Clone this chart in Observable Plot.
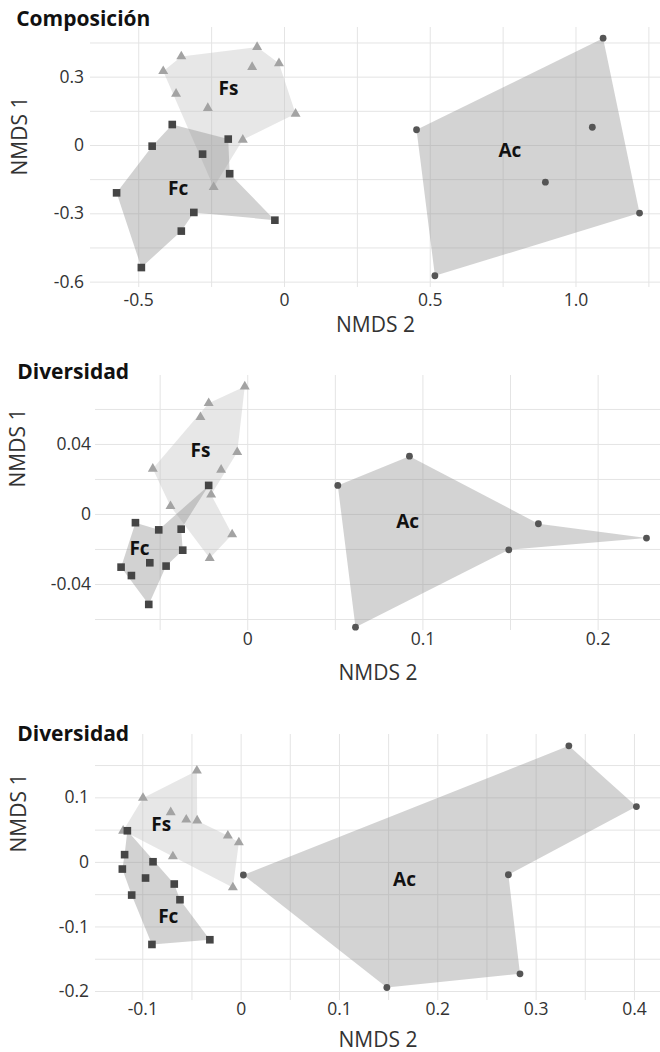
<!DOCTYPE html>
<html><head><meta charset="utf-8">
<script src="https://cdn.jsdelivr.net/npm/d3@7"></script>
<script src="https://cdn.jsdelivr.net/npm/@observablehq/plot@0.6"></script>
<style>
body{margin:0;background:#fff;}
#chart svg{display:block;}
</style></head><body><div id="chart"></div>
<script>
// ---------- Panel 1: Composición ----------
const compFs = [[-0.416,0.326],[-0.354,0.391],[-0.094,0.432],[-0.019,0.361],[-0.111,0.344],[-0.372,0.227],[-0.263,0.164],[0.038,0.139],[-0.143,0.025],[-0.243,-0.183]];
const compFsHull = [0,1,2,3,7,8,9];
const compFc = [[-0.385,0.092],[-0.454,-0.003],[-0.193,0.028],[-0.281,-0.038],[-0.188,-0.124],[-0.576,-0.208],[-0.311,-0.294],[-0.033,-0.328],[-0.354,-0.376],[-0.491,-0.536]];
const compFcHull = [0,2,4,7,6,8,9,5,1];
const compAc = [[0.453,0.069],[1.093,0.471],[1.056,0.080],[0.895,-0.161],[1.218,-0.297],[0.516,-0.572]];
const compAcHull = [0,1,4,5];
const compLabels = [["Fs",-0.192,0.250],["Fc",-0.365,-0.189],["Ac",0.773,-0.022]];
const compXTicks = [-0.5,0,0.5,1.0], compXTickLabels = ["-0.5","0","0.5","1.0"];
const compYTicks = [-0.6,-0.3,0,0.3], compYTickLabels = ["-0.6","-0.3","0","0.3"];
const compXGrid = [-0.5,-0.25,0,0.25,0.5,0.75,1.0,1.25];
const compYGrid = [-0.6,-0.45,-0.3,-0.15,0,0.15,0.3,0.45];

// ---------- Panel 2: Diversidad ----------
const div1Fs = [[-0.0017,0.0731],[-0.0223,0.0636],[-0.027,0.0556],[-0.006,0.0356],[-0.0542,0.0261],[-0.0152,0.0255],[-0.0209,0.0113],[-0.0441,0.0047],[-0.0089,-0.0114],[-0.0217,-0.025]];
const div1FsHull = [4,1,0,3,6,8,9,7];
const div1Fc = [[-0.0641,-0.0047],[-0.0508,-0.0088],[-0.038,-0.0084],[-0.0223,0.0166],[-0.0371,-0.0204],[-0.0559,-0.0276],[-0.0723,-0.0301],[-0.0466,-0.0295],[-0.0664,-0.0349],[-0.0565,-0.0514]];
const div1FcHull = [0,1,3,2,4,7,9,6];
const div1Ac = [[0.0514,0.0166],[0.0923,0.0333],[0.1659,-0.0053],[0.149,-0.0202],[0.2276,-0.0135],[0.0615,-0.0644]];
const div1AcHull = [0,1,2,4,3,5];
const div1Labels = [["Fs",-0.027,0.0366],["Fc",-0.0618,-0.0196],["Ac",0.0913,-0.0044]];
const div1XTicks = [0,0.1,0.2], div1XTickLabels = ["0","0.1","0.2"];
const div1YTicks = [-0.04,0,0.04], div1YTickLabels = ["-0.04","0","0.04"];
const div1XGrid = [-0.05,0,0.05,0.1,0.15,0.2];
const div1YGrid = [-0.06,-0.04,-0.02,0,0.02,0.04,0.06];

// ---------- Panel 3: Diversidad ----------
const div2Fs = [[-0.045,0.142],[-0.0998,0.0998],[-0.0716,0.0775],[-0.0558,0.0662],[-0.0447,0.0647],[-0.12,0.049],[-0.0135,0.0414],[-0.0023,0.031],[-0.0694,0.0093],[-0.0084,-0.0388]];
const div2FsHull = [5,1,0,4,6,7,9,8];
const div2Fc = [[-0.1157,0.049],[-0.1185,0.012],[-0.0896,0.001],[-0.1208,-0.0103],[-0.0972,-0.0242],[-0.068,-0.0335],[-0.1113,-0.0506],[-0.0622,-0.0578],[-0.0318,-0.1198],[-0.0907,-0.1271]];
const div2FcHull = [0,5,7,8,9,6,3,1];
const div2Ac = [[0.0023,-0.0195],[0.3333,0.1805],[0.402,0.0864],[0.2718,-0.0191],[0.2836,-0.1726],[0.1482,-0.1938]];
const div2AcHull = [0,1,2,3,4,5];
const div2Labels = [["Fs",-0.0812,0.0587],["Fc",-0.0741,-0.0849],["Ac",0.1662,-0.0265]];
const div2XTicks = [-0.1,0,0.1,0.2,0.3,0.4], div2XTickLabels = ["-0.1","0","0.1","0.2","0.3","0.4"];
const div2YTicks = [-0.2,-0.1,0,0.1], div2YTickLabels = ["-0.2","-0.1","0","0.1"];
const div2XGrid = [-0.1,-0.05,0,0.05,0.1,0.15,0.2,0.25,0.3,0.35,0.4];
const div2YGrid = [-0.2,-0.15,-0.1,-0.05,0,0.05,0.1,0.15];

const FONT = "'Open Sans', sans-serif";
const GRID = "#e4e4e4";

function panel(o) {
  const hull = (pts, idx) => idx.map(i => ({x: pts[i][0], y: pts[i][1]}));
  const pts = arr => arr.map(p => ({x: p[0], y: p[1]}));
  const poly = (pts_, idx, fill, op) => Plot.line(hull(pts_, idx), {x: "x", y: "y", curve: "linear-closed", fill, fillOpacity: op, stroke: "none"});
  return Plot.plot({
    width: 660, height: o.height,
    marginLeft: o.ml, marginRight: 0, marginTop: o.mt, marginBottom: o.mb,
    style: {fontFamily: FONT, background: "#fff", overflow: "visible"},
    x: {domain: o.xd, label: null},
    y: {domain: o.yd, label: null},
    marks: [
      Plot.ruleX(o.xGrid, {stroke: GRID, strokeWidth: 1}),
      Plot.ruleY(o.yGrid, {stroke: GRID, strokeWidth: 1}),
      poly(o.Fs, o.FsHull, "#c4c4c4", 0.4),
      poly(o.Fc, o.FcHull, "#8f8f8f", 0.4),
      poly(o.Ac, o.AcHull, "#929292", 0.4),
      Plot.dot(pts(o.Fs), {x: "x", y: "y", symbol: "triangle", r: 3.7, fill: "#a3a3a3", stroke: "none"}),
      Plot.dot(pts(o.Fc), {x: "x", y: "y", symbol: "square", r: 4.3, fill: "#454545", stroke: "none"}),
      Plot.dot(pts(o.Ac), {x: "x", y: "y", symbol: "circle", r: 3.4, fill: "#555555", stroke: "none"}),
      Plot.text(o.labels, {x: d => d[1], y: d => d[2], text: d => d[0], fontSize: 19, fontWeight: "bold", fill: "#111", fontFamily: FONT}),
      Plot.axisX(o.xTicks, {tickSize: 0, tickPadding: o.xPad, fontSize: 17.5, fill: "#333", tickFormat: d => o.xTickLabels[o.xTicks.indexOf(d)], label: null}),
      Plot.axisY(o.yTicks, {tickSize: 0, tickPadding: o.yPad, fontSize: 17.5, fill: "#333", tickFormat: d => o.yTickLabels[o.yTicks.indexOf(d)], label: null}),
      Plot.text(["NMDS 2"], {frameAnchor: "bottom", dy: o.xlDy, lineAnchor: "middle", fontSize: 21, fill: "#333"}),
      Plot.text(["NMDS 1"], {frameAnchor: "left", dx: o.ylDx, dy: o.ylDy, rotate: -90, lineAnchor: "middle", fontSize: 21, fill: "#333"}),
      Plot.text([o.title], {frameAnchor: "top-left", dx: o.tDx, dy: o.tDy, textAnchor: "start", lineAnchor: "middle", fontSize: 21, fontWeight: "bold", fill: "#111"})
    ]
  });
}

const chart = document.getElementById("chart");
chart.append(panel({
  title: "Composición", height: 340, ml: 90, mt: 27, mb: 53,
  xd: [-0.6655, 1.2899], yd: [-0.6236, 0.5180],
  xGrid: compXGrid, yGrid: compYGrid, xTicks: compXTicks, xTickLabels: compXTickLabels, yTicks: compYTicks, yTickLabels: compYTickLabels,
  Fs: compFs, FsHull: compFsHull, Fc: compFc, FcHull: compFcHull, Ac: compAc, AcHull: compAcHull, labels: compLabels,
  xPad: 5.75, yPad: 6.5, xlDy: 38, ylDx: -70, ylDy: 18, tDx: -74.3, tDy: -8.2
}));
chart.append(panel({
  title: "Diversidad", height: 360, ml: 95, mt: 35, mb: 70,
  xd: [-0.0869, 0.2356], yd: [-0.0663, 0.0794],
  xGrid: div1XGrid, yGrid: div1YGrid, xTicks: div1XTicks, xTickLabels: div1XTickLabels, yTicks: div1YTicks, yTickLabels: div1YTickLabels,
  Fs: div1Fs, FsHull: div1FsHull, Fc: div1Fc, FcHull: div1FcHull, Ac: div1Ac, AcHull: div1AcHull, labels: div1Labels,
  xPad: 1.75, yPad: 4.5, xlDy: 43, ylDx: -77, ylDy: -15.5, tDx: -78.3, tDy: -3.5
}));
chart.append(panel({
  title: "Diversidad", height: 352, ml: 95, mt: 34, mb: 52,
  xd: [-0.1481, 0.4265], yd: [-0.2139, 0.1981],
  xGrid: div2XGrid, yGrid: div2YGrid, xTicks: div2XTicks, xTickLabels: div2XTickLabels, yTicks: div2YTicks, yTickLabels: div2YTickLabels,
  Fs: div2Fs, FsHull: div2FsHull, Fc: div2Fc, FcHull: div2FcHull, Ac: div2Ac, AcHull: div2AcHull, labels: div2Labels,
  xPad: 1.75, yPad: 6.5, xlDy: 39.5, ylDx: -76, ylDy: -15, tDx: -78.3, tDy: -0.7
}));
</script></body></html>
